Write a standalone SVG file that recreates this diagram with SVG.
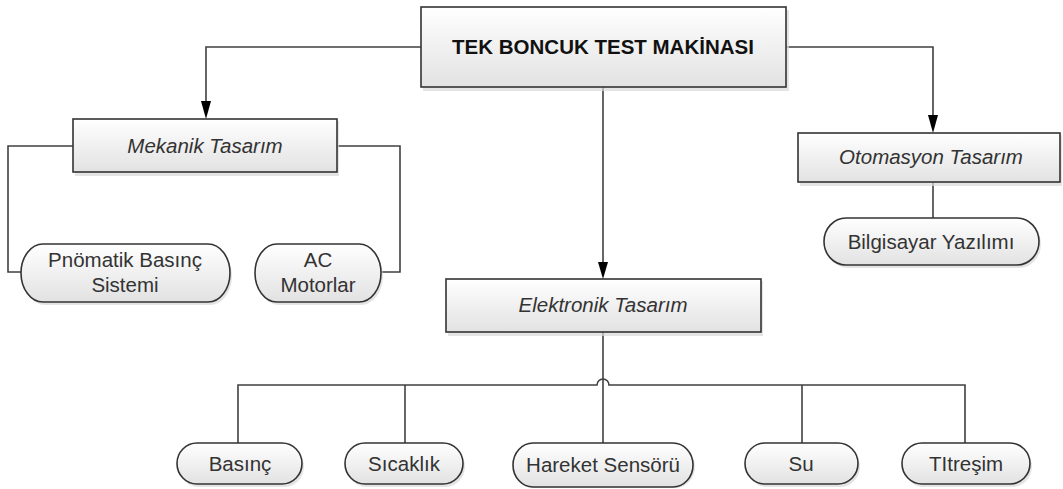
<svg xmlns="http://www.w3.org/2000/svg" width="1063" height="489" viewBox="0 0 1063 489">
<defs>
<linearGradient id="g" x1="0" y1="0" x2="0" y2="1">
<stop offset="0" stop-color="#ffffff"/>
<stop offset="1" stop-color="#e2e2e2"/>
</linearGradient>
<marker id="arr" markerUnits="userSpaceOnUse" markerWidth="12" markerHeight="18" refX="6" refY="17" orient="auto-start-reverse" viewBox="0 0 12 18">
<path d="M1,0 L11,0 L6,17 Z" fill="#000"/>
</marker>
</defs>
<style>
.box{fill:url(#g);stroke:#333;stroke-width:1.6}
.sh{fill:#d8d8d8;opacity:0.7}
.t{font-family:"Liberation Sans",Arial,sans-serif;font-size:20.5px;fill:#333;text-anchor:middle}
.i{font-style:italic}
.b{font-weight:bold;fill:#111}
.c{fill:none;stroke:#404040;stroke-width:1.6}
.ca{fill:none;stroke:#404040;stroke-width:1.6}
</style>
<rect width="1063" height="489" fill="#fff"/>
<g id="connectors">
<path class="c" d="M421,47 H206 V102"/>
<path class="c" d="M786,47 H933 V116"/>
<path class="c" d="M603,87 V262"/>
<path d="M201,101 L211,101 L206,119 Z" fill="#000"/>
<path d="M928,115 L938,115 L933,133 Z" fill="#000"/>
<path d="M598,262 L608,262 L603,279 Z" fill="#000"/>
<path class="c" d="M73,146 H8 V272 H21"/>
<path class="c" d="M337,146 H400 V272 H381"/>
<path class="c" d="M933,182 V218"/>
<path class="c" d="M603,332 V443"/>
<path class="c" d="M238,443 V385 H597 a6,6 0 0 1 12,0 H965 V443"/>
<path class="c" d="M405,385 V443"/>
<path class="c" d="M802,385 V443"/>
</g>
<g id="main">
<rect class="sh" x="423" y="10" width="366" height="81"/>
<rect class="box" x="421" y="7" width="365" height="80"/>
<text class="t b" x="603" y="54">TEK BONCUK TEST MAKİNASI</text>
</g>
<g id="mekanik">
<rect class="sh" x="75" y="121" width="264" height="55"/>
<rect class="box" x="73" y="119" width="264" height="53"/>
<text class="t i" x="205" y="153">Mekanik Tasarım</text>
</g>
<g id="otomasyon">
<rect class="sh" x="800" y="135" width="262" height="51"/>
<rect class="box" x="798" y="133" width="262" height="49"/>
<text class="t i" x="931" y="164">Otomasyon Tasarım</text>
</g>
<g id="elektronik">
<rect class="sh" x="448" y="281" width="315" height="55"/>
<rect class="box" x="446" y="279" width="315" height="53"/>
<text class="t i" x="603" y="312">Elektronik Tasarım</text>
</g>
<g id="pnomatik">
<rect class="sh" x="23" y="247" width="209" height="58" rx="22" ry="29"/>
<rect class="box" x="21" y="244" width="209" height="58" rx="22" ry="29"/>
<text class="t" x="125" y="267">Pnömatik Basınç</text>
<text class="t" x="125" y="292">Sistemi</text>
</g>
<g id="ac">
<rect class="sh" x="257" y="247" width="126" height="58" rx="22" ry="29"/>
<rect class="box" x="255" y="244" width="126" height="58" rx="22" ry="29"/>
<text class="t" x="318" y="267">AC</text>
<text class="t" x="318" y="292">Motorlar</text>
</g>
<g id="bilgisayar">
<rect class="sh" x="826" y="221" width="215" height="47" rx="22" ry="23.5"/>
<rect class="box" x="824" y="218" width="215" height="47" rx="22" ry="23.5"/>
<text class="t" x="931" y="249">Bilgisayar Yazılımı</text>
</g>
<g id="basinc">
<rect class="sh" x="179" y="446" width="125" height="41" rx="20" ry="20.5"/>
<rect class="box" x="177" y="443" width="125" height="41" rx="20" ry="20.5"/>
<text class="t" x="240" y="471">Basınç</text>
</g>
<g id="sicaklik">
<rect class="sh" x="347" y="446" width="118" height="41" rx="20" ry="20.5"/>
<rect class="box" x="345" y="443" width="118" height="41" rx="20" ry="20.5"/>
<text class="t" x="404" y="471">Sıcaklık</text>
</g>
<g id="hareket">
<rect class="sh" x="515" y="446" width="180" height="42" rx="20" ry="21"/>
<rect class="box" x="513" y="443" width="180" height="44" rx="20" ry="22"/>
<text class="t" x="603" y="472">Hareket Sensörü</text>
</g>
<g id="su">
<rect class="sh" x="747" y="446" width="113" height="41" rx="20" ry="20.5"/>
<rect class="box" x="745" y="443" width="113" height="41" rx="20" ry="20.5"/>
<text class="t" x="801" y="471">Su</text>
</g>
<g id="titresim">
<rect class="sh" x="904" y="446" width="128" height="41" rx="20" ry="20.5"/>
<rect class="box" x="902" y="443" width="128" height="41" rx="20" ry="20.5"/>
<text class="t" x="966" y="471">TItreşim</text>
</g>
</svg>
